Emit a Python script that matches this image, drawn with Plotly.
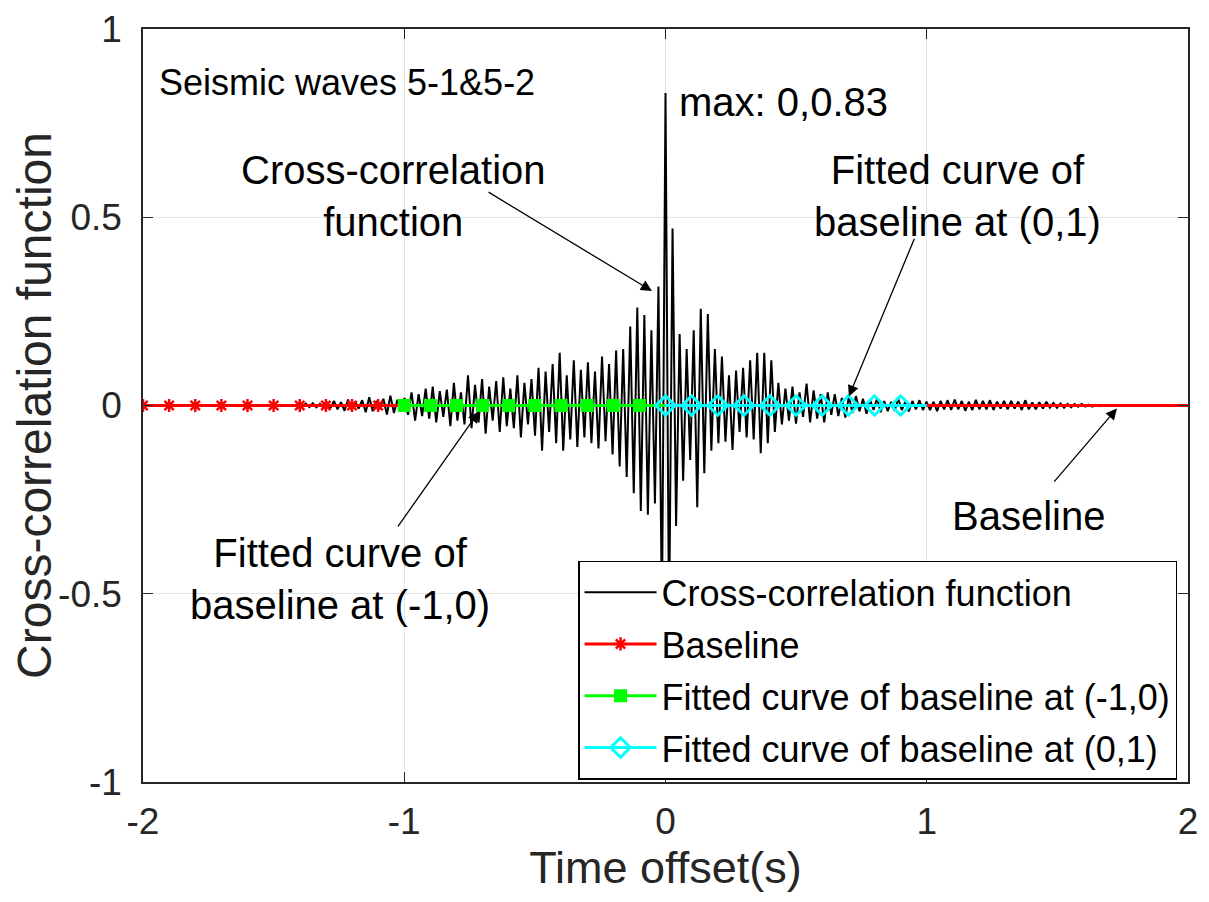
import numpy as np
import plotly.graph_objects as go

# cross-correlation values, one per half-period (lag step dt)
dt = 0.0135
ccf_left = [0.003, -0.004, 0.005, -0.004, 0.006, -0.005, 0.004, -0.006,
            0.008, -0.007, 0.012, -0.010, 0.009, -0.014, 0.016, -0.012, 0.010, -0.008,
            0.014, -0.018, 0.022, -0.015, 0.012, -0.010, 0.018, -0.024, 0.026, -0.020, 0.015, -0.012,
            0.020, -0.025, 0.035, -0.040, 0.030, -0.028, 0.045, -0.035, 0.050, -0.045,
            0.038, -0.030, 0.042, -0.055, 0.060, -0.040, 0.035, -0.050,
            0.080, -0.060, 0.055, -0.045, 0.070, -0.075, 0.050, -0.040, 0.065, -0.070,
            0.075, -0.055, 0.045, -0.060, 0.080, -0.085, 0.060, -0.050, 0.070,
            -0.080, 0.100, -0.120, 0.090, -0.070, 0.110, -0.100, 0.140, -0.120, 0.080,
            -0.090, 0.120, -0.110, 0.095, -0.085,
            0.115, -0.100, 0.090, -0.114, 0.130, -0.095, 0.110, -0.130, 0.146, -0.162, 0.150,
            -0.190, 0.210, -0.233, 0.260, -0.280, 0.240, -0.290, 0.200, -0.260, 0.316, -0.560]
ccf_right = [0.830, -0.600, 0.470, -0.320, 0.190, -0.200, 0.150, -0.145, 0.200, -0.270,
             0.257, -0.180, 0.243, -0.120, 0.150,
             -0.100, 0.130, -0.096, 0.080, -0.118, 0.093, -0.070, 0.100, -0.085, 0.120,
             -0.090, 0.140, -0.127, 0.140, -0.100, 0.120, -0.070, 0.060, -0.050,
             0.045, -0.040, 0.050, -0.048, 0.035, -0.030, 0.058, -0.045, 0.040, -0.035,
             0.030, -0.045, 0.035, -0.025, 0.030, -0.028, 0.020, -0.032, 0.025,
             -0.020, 0.025, -0.015, 0.018, -0.022, 0.015, -0.012, 0.020, -0.018, 0.012,
             -0.015, 0.010, -0.014, 0.018, -0.012, 0.010, -0.016, 0.012, -0.010, 0.014, -0.012, 0.010,
             -0.012, 0.010, -0.015, 0.012, -0.010, 0.014, -0.012, 0.016, -0.010, 0.012,
             -0.014, 0.010, -0.012, 0.015, -0.010, 0.012, -0.010, 0.014, -0.012, 0.010, -0.008, 0.012,
             -0.010, 0.012, -0.008, 0.010, -0.012, 0.014, -0.010, 0.008, -0.010, 0.009,
             -0.008, 0.010, -0.006, 0.007, -0.006, 0.005, -0.006, 0.004, -0.005, 0.004,
             -0.003, 0.004, -0.003, 0.002, -0.003, 0.002, -0.002, 0.001, 0.000]
lag = np.arange(-len(ccf_left), len(ccf_right)) * dt
ccf = ccf_left + ccf_right

baseline_t = [-2.0, 2.0]
baseline_y = [0.0, 0.0]
baseline_mark_t = [-2.0, -1.9, -1.8, -1.7, -1.6, -1.5, -1.4, -1.3, -1.2, -1.1]
fit_neg_t = [-1.0, -0.9, -0.8, -0.7, -0.6, -0.5, -0.4, -0.3, -0.2, -0.1, 0.0]
fit_neg_y = [0.0] * 11
fit_pos_t = [0.0, 0.1, 0.2, 0.3, 0.4, 0.5, 0.6, 0.7, 0.8, 0.9, 1.0]
fit_pos_y = [0.0] * 11

x_ticks = [-2, -1, 0, 1, 2]
x_labels = ['-2', '-1', '0', '1', '2']
y_ticks = [-1, -0.5, 0, 0.5, 1]
y_labels = ['-1', '-0.5', '0', '0.5', '1']

FONT = 'Liberation Sans, Arial, sans-serif'
AX = '#262626'

fig = go.Figure()
fig.add_trace(go.Scatter(x=lag, y=ccf, mode='lines', name='Cross-correlation function',
                         line=dict(color='black', width=2), legendgroup='a'))
fig.add_trace(go.Scatter(x=baseline_t, y=baseline_y, mode='lines', showlegend=False,
                         line=dict(color='red', width=3)))
fig.add_trace(go.Scatter(x=baseline_mark_t, y=[0.0] * len(baseline_mark_t), mode='lines+markers',
                         name='Baseline', legendgroup='b', line=dict(color='red', width=3),
                         marker=dict(symbol='asterisk-open', size=11, line=dict(color='red', width=2.5))))
fig.add_trace(go.Scatter(x=fit_neg_t, y=fit_neg_y, mode='lines', showlegend=False,
                         line=dict(color='#00ff00', width=3)))
fig.add_trace(go.Scatter(x=fit_neg_t[:-1], y=fit_neg_y[:-1], mode='lines+markers',
                         name='Fitted curve of baseline at (-1,0)', legendgroup='c',
                         line=dict(color='#00ff00', width=3),
                         marker=dict(symbol='square', size=13, color='#00ff00')))
fig.add_trace(go.Scatter(x=fit_pos_t, y=fit_pos_y, mode='lines', showlegend=False,
                         line=dict(color='cyan', width=3)))
fig.add_trace(go.Scatter(x=fit_pos_t[:-1], y=fit_pos_y[:-1], mode='lines+markers',
                         name='Fitted curve of baseline at (0,1)', legendgroup='d',
                         line=dict(color='cyan', width=3),
                         marker=dict(symbol='diamond-open', size=15, line=dict(color='cyan', width=3))))

# text labels
txt = dict(xref='x', yref='y', showarrow=False, font=dict(family=FONT, size=40, color='black'))
fig.add_annotation(x=-1.945, y=0.857, text='Seismic waves 5-1&5-2', xanchor='left',
                   **{**txt, 'font': dict(family=FONT, size=36, color='black')})
fig.add_annotation(x=-1.04, y=0.556, text='Cross-correlation<br>function', **txt)
fig.add_annotation(x=0.045, y=0.807, text='max: 0,0.83', xanchor='left', **txt)
fig.add_annotation(x=1.116, y=0.556, text='Fitted curve of<br>baseline at (0,1)', **txt)
fig.add_annotation(x=-1.245, y=-0.46, text='Fitted curve of<br>baseline at (-1,0)', **txt)
fig.add_annotation(x=1.39, y=-0.294, text='Baseline', **txt)

# arrows (head at x,y; tail at ax,ay)
arr = dict(xref='x', yref='y', axref='x', ayref='y', text='', showarrow=True,
           arrowhead=2, arrowsize=1.7, arrowwidth=1.3, arrowcolor='black')
fig.add_annotation(x=-0.052, y=0.304, ax=-0.683, ay=0.569, **arr)
fig.add_annotation(x=0.702, y=0.024, ax=0.955, ay=0.447, **arr)
fig.add_annotation(x=-0.714, y=-0.016, ax=-1.028, ay=-0.325, **arr)
fig.add_annotation(x=1.728, y=-0.008, ax=1.483, ay=-0.206, **arr)

axis_common = dict(showgrid=True, gridcolor='#e3e3e3', gridwidth=1, zeroline=False,
                   showline=True, linecolor=AX, linewidth=1.5, mirror='ticks',
                   ticks='inside', ticklen=10, tickwidth=1, tickcolor=AX, automargin=False,
                   ticklabeloverflow='allow',
                   tickfont=dict(family=FONT, size=37, color=AX))

# page body adds an 8px offset, so margins are shifted by that much
fig.update_layout(
    width=1209, height=902,
    margin=dict(l=135, r=29, t=21, b=128),
    paper_bgcolor='white', plot_bgcolor='white',
    font=dict(family=FONT, color=AX),
    xaxis=dict(range=[-2, 2], tickvals=x_ticks, ticktext=x_labels, ticklabelstandoff=6,
               title=dict(text='Time offset(s)', font=dict(family=FONT, size=45, color=AX), standoff=2),
               **axis_common),
    yaxis=dict(range=[-1, 1], tickvals=y_ticks, ticktext=y_labels, ticklabelstandoff=12,
               title=dict(text='Cross-correlation function', font=dict(family=FONT, size=48, color=AX), standoff=12),
               **axis_common),
    legend=dict(x=0.9895, xanchor='right', y=0.003, yanchor='bottom',
                bgcolor='white', bordercolor='black', borderwidth=1.5,
                font=dict(family=FONT, size=36, color='black'),
                itemwidth=72, tracegroupgap=2, traceorder='grouped'),
)

fig.write_html("out.html")
